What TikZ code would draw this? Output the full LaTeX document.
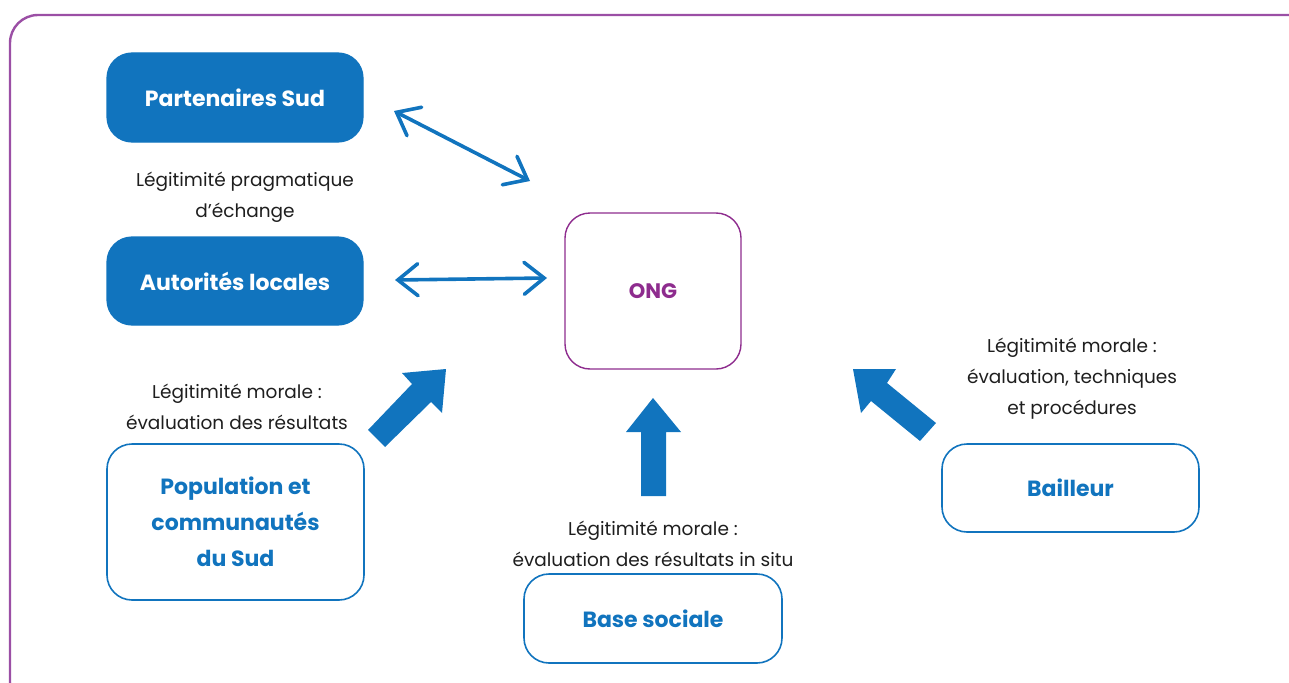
\documentclass[tikz,border=0pt]{standalone}
\usepackage{fontspec}
\setmainfont{Poppins}
\usetikzlibrary{arrows.meta}
\definecolor{ongblue}{HTML}{1174BE}
\definecolor{framepurple}{HTML}{9B4FA5}
\definecolor{ongpurple}{HTML}{8E2C8E}
\definecolor{txtdark}{HTML}{1E1E1E}
\tikzset{
  filledbox/.style={draw=ongblue, fill=ongblue, rounded corners=25pt, line width=1.2pt,
    text=white, font=\fontsize{22}{26}\selectfont\bfseries, align=center},
  openbox/.style={draw=ongblue, fill=white, rounded corners=25pt, line width=1.6pt,
    text=ongblue, font=\fontsize{22}{36}\selectfont\bfseries, align=center},
  ongbox/.style={draw=ongpurple, rounded corners=25pt, line width=1.4pt,
    text=ongpurple, font=\fontsize{21}{25}\selectfont\bfseries},
  legit/.style={text=txtdark, font=\fontsize{18.5}{31}\selectfont, align=center, inner sep=0pt},
  twoway/.style={draw=ongblue, line width=3.6pt, line cap=round,
    {Straight Barb[length=20pt,width=32pt,line cap=round]}-{Straight Barb[length=20pt,width=32pt,line cap=round]}},
  blockarrow/.style={fill=ongblue, draw=none}
}
\begin{document}
\begin{tikzpicture}[x=1pt,y=-1pt]
\useasboundingbox (0,0) rectangle (1289,682);
\clip (0,0) rectangle (1289,682);
% outer frame (runs past the right and bottom edges)
\draw[framepurple, line width=2.4pt, rounded corners=28pt] (10,15) rectangle (1320,710);

% actors
\node[filledbox, minimum width=256pt, minimum height=89pt] (part) at (235,97.5) {Partenaires Sud};
\node[filledbox, minimum width=256pt, minimum height=88pt] (auto) at (235,281) {Autorités locales};
\node[openbox, minimum width=257pt, minimum height=156pt] (pop) at (235.5,522) {Population et\\communautés\\du Sud};
\node[openbox, minimum width=258pt, minimum height=89pt] (base) at (653,618.5) {Base sociale};
\node[openbox, minimum width=257pt, minimum height=88pt] (bail) at (1070.5,488) {Bailleur};
\node[ongbox, minimum width=176pt, minimum height=156pt] (ong) at (653,291) {ONG};

% legitimacy labels
\node[legit] (lpart) at (245,197) {Légitimité pragmatique\\d’échange};
\node[legit] (lpop) at (237,407) {Légitimité morale :\\évaluation des résultats};
\node[legit] (lbase) at (653,544) {Légitimité morale :\\évaluation des résultats in situ};
\node[legit] (lbail) at (1072,379) {Légitimité morale :\\évaluation, techniques\\et procédures};

% exchange arrows
\coordinate (pA) at (394,111);
\coordinate (pB) at (530,181);
\coordinate (aA) at (395,280);
\coordinate (aB) at (547,278);
\draw[twoway] (pA) -- (pB);
\draw[twoway] (aA) -- (aB);

% block arrows towards the ONG
\fill[blockarrow] (385,447) -- (368,430) -- (412,384) -- (402,373) -- (446,369) -- (442,413) -- (431,402) -- cycle;
\fill[blockarrow] (641,496) -- (641,432) -- (626,432) -- (653,398) -- (681,432) -- (666,432) -- (666,496) -- cycle;
\fill[blockarrow] (936,423) -- (920,441) -- (871,401) -- (861,413) -- (853,369) -- (896,369) -- (887,383) -- cycle;
\end{tikzpicture}
\end{document}
